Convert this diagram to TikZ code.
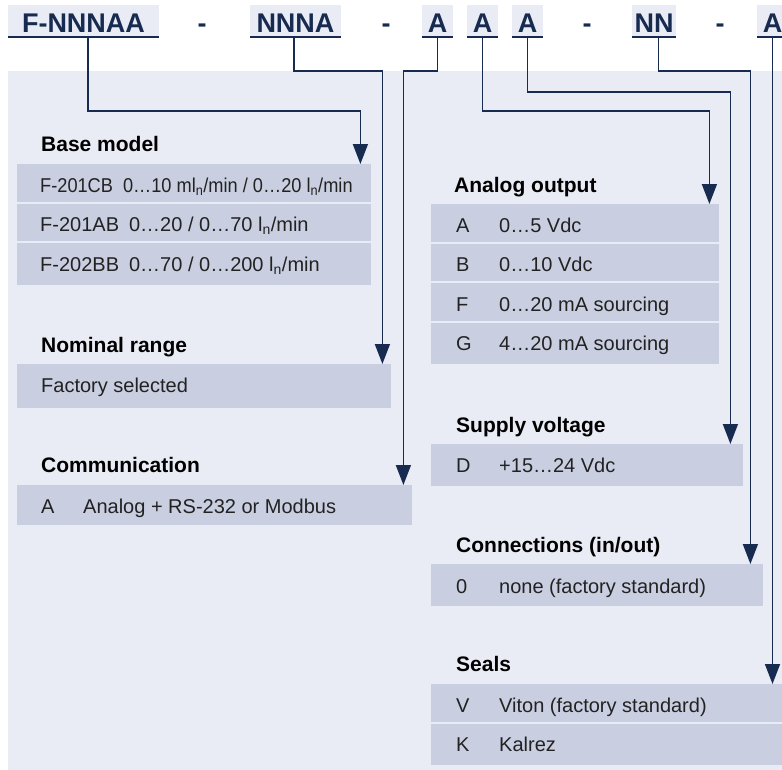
\documentclass[tikz,border=0pt]{standalone}
\usepackage{fontspec}
\setmainfont{Liberation Sans}
\newfontfamily\narrowfont[FakeStretch=0.91]{Liberation Sans}
\usetikzlibrary{arrows.meta,positioning}

\definecolor{navy}{HTML}{172A50}
\definecolor{panel}{HTML}{E9ECF5}
\definecolor{rowfill}{HTML}{C9CFE1}
\definecolor{bodytext}{HTML}{222222}

\tikzset{
  code/.style={fill=panel, text=navy, font=\fontsize{27}{30}\bfseries,
    inner xsep=0pt, inner ysep=4pt, text height=23pt, text depth=0pt},
  sep/.style={text=navy, font=\fontsize{27}{30}\bfseries, anchor=base, inner sep=0pt},
  box/.style={fill=rowfill, anchor=north west, inner sep=0pt, minimum height=37.5pt},
  head/.style={font=\fontsize{21}{24}\bfseries, text=black, anchor=base west, inner sep=0pt},
  entry/.style={font=\fontsize{20}{24}\selectfont, text=bodytext, anchor=base west, inner sep=0pt},
  conn/.style={draw=navy, line width=1.6pt, -{Triangle[length=20pt,width=15pt]}},
}

\begin{document}
\begin{tikzpicture}[x=1pt,y=-1pt]
  \useasboundingbox (0,0) rectangle (782,769);
  \clip (0,0) rectangle (782,769);
  \fill[panel] (8,71) rectangle (790,780);

  % order code
  \node[code, minimum width=151pt] (cF) at (83.5,20.5) {F-NNNAA};
  \node[code, minimum width=91pt] (cN) at (295.5,20.5) {NNNA};
  \node[code, minimum width=31pt] (cA1) at (437.5,20.5) {A};
  \node[code, minimum width=31pt] (cA2) at (482.5,20.5) {A};
  \node[code, minimum width=31pt] (cA3) at (527.5,20.5) {A};
  \node[code, minimum width=44pt] (cNN) at (654,20.5) {NN};
  \node[code, minimum width=31pt] (cA4) at (772.5,20.5) {A};
  \foreach \from in {cF,cN,cA1,cA2,cA3,cNN,cA4}
    \draw[navy, line width=2pt] ([yshift=-1pt]\from.south west) -- ([yshift=-1pt]\from.south east);
  \node[sep] (d1) at (202,32) {-};
  \node[sep] (d2) at (386,32) {-};
  \node[sep] (d3) at (587,32) {-};
  \node[sep] (d4) at (720,32) {-};

  % left column
  \node[box, minimum width=354pt] (bBase1) at (17,164) {};
  \node[box, minimum width=354pt] (bBase2) at (17,203.5) {};
  \node[box, minimum width=354pt, minimum height=41.5pt] (bBase3) at (17,243) {};
  \node[head] (hBase) at ([shift={(24pt,13pt)}]bBase1.north west) {Base model};
  \node[entry] (tBase1) at ([shift={(23pt,-28pt)}]bBase1.north west) {\narrowfont F-201CB\enspace 0…10 ml\textsubscript{n}/min / 0…20 l\textsubscript{n}/min};
  \node[entry] (tBase2) at ([shift={(23pt,-28pt)}]bBase2.north west) {F-201AB\enspace 0…20 / 0…70 l\textsubscript{n}/min};
  \node[entry] (tBase3) at ([shift={(23pt,-28pt)}]bBase3.north west) {F-202BB\enspace 0…70 / 0…200 l\textsubscript{n}/min};

  \node[box, minimum width=374pt, minimum height=44pt] (bNom) at (17,364) {};
  \node[head] (hNom) at ([shift={(24pt,12pt)}]bNom.north west) {Nominal range};
  \node[entry] (tNom) at ([shift={(24pt,-28pt)}]bNom.north west) {Factory selected};

  \node[box, minimum width=395pt, minimum height=40pt] (bCom) at (17,485) {};
  \node[head] (hCom) at ([shift={(24pt,13pt)}]bCom.north west) {Communication};
  \node[entry] (tComk) at ([shift={(24pt,-28pt)}]bCom.north west) {A};
  \node[entry] (tComv) at ([shift={(66pt,-28pt)}]bCom.north west) {Analog + RS-232 or Modbus};

  % right column
  \node[box, minimum width=288pt] (bAna1) at (431,204) {};
  \node[box, minimum width=288pt] (bAna2) at (431,243.5) {};
  \node[box, minimum width=288pt] (bAna3) at (431,283) {};
  \node[box, minimum width=288pt, minimum height=41.5pt] (bAna4) at (431,322.5) {};
  \node[head] (hAna) at ([shift={(23pt,12pt)}]bAna1.north west) {Analog output};
  \foreach \row/\k/\v in {1/A/0…5 Vdc, 2/B/0…10 Vdc, 3/F/0…20 mA sourcing, 4/G/4…20 mA sourcing} {
    \node[entry] (tAna\row k) at ([shift={(25pt,-28pt)}]bAna\row.north west) {\k};
    \node[entry] (tAna\row v) at ([shift={(68pt,-28pt)}]bAna\row.north west) {\v};
  }

  \node[box, minimum width=312pt, minimum height=42pt] (bSup) at (431,444) {};
  \node[head] (hSup) at ([shift={(25pt,12pt)}]bSup.north west) {Supply voltage};
  \node[entry] (tSupk) at ([shift={(25pt,-28pt)}]bSup.north west) {D};
  \node[entry] (tSupv) at ([shift={(68pt,-28pt)}]bSup.north west) {+15…24 Vdc};

  \node[box, minimum width=332pt, minimum height=42pt] (bCon) at (431,564) {};
  \node[head] (hCon) at ([shift={(25pt,12pt)}]bCon.north west) {Connections (in/out)};
  \node[entry] (tConk) at ([shift={(25pt,-29pt)}]bCon.north west) {0};
  \node[entry] (tConv) at ([shift={(68pt,-29pt)}]bCon.north west) {none (factory standard)};

  \node[box, minimum width=360pt] (bSeal1) at (431,684) {};
  \node[box, minimum width=360pt, minimum height=41.5pt] (bSeal2) at (431,723.5) {};
  \node[head] (hSeal) at ([shift={(25pt,13pt)}]bSeal1.north west) {Seals};
  \foreach \row/\k/\v in {1/V/Viton (factory standard), 2/K/Kalrez} {
    \node[entry] (tSeal\row k) at ([shift={(25pt,-28pt)}]bSeal\row.north west) {\k};
    \node[entry] (tSeal\row v) at ([shift={(68pt,-28pt)}]bSeal\row.north west) {\v};
  }

  % connectors
  \coordinate (lvA) at (0,71);
  \coordinate (lvB) at (0,92);
  \coordinate (lvC) at (0,111);
  \foreach \from/\dx/\lev/\tgt/\off in {cF/4.5/lvC/bBase1/11, cN/-1.5/lvA/bNom/9,
      cA1/0/lvA/bCom/9, cA2/0/lvC/bAna1/10, cA3/0/lvB/bSup/13, cNN/4.5/lvA/bCon/13} {
    \coordinate (s) at ([xshift=\dx pt]\from.south);
    \coordinate (t) at ([xshift=-\off pt]\tgt.north east);
    \draw[conn] (s) |- (t |- \lev) -- (t);
  }
  \draw[conn] (cA4.south) -- (cA4.south |- bSeal1.north);
\end{tikzpicture}
\end{document}
